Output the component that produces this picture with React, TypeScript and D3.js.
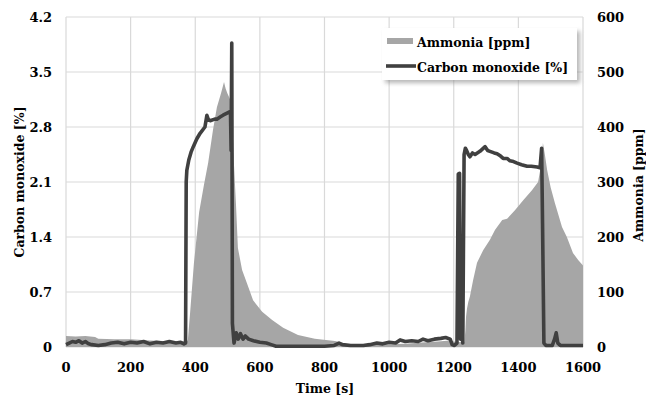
import React from 'react';
import * as d3 from 'd3';

const timeTicks = [0, 200, 400, 600, 800, 1000, 1200, 1400, 1600];
const coTicks = [0, 0.7, 1.4, 2.1, 2.8, 3.5, 4.2];
const nh3Ticks = [0, 100, 200, 300, 400, 500, 600];

const ammoniaTime = [0, 30, 60, 90, 100, 150, 200, 260, 300, 340, 370, 377, 384, 396, 412, 427, 440, 455, 467, 480, 489, 494, 499, 508, 514, 520, 526, 532, 545, 560, 579, 607, 638, 672, 718, 770, 832, 870, 900, 950, 1000, 1050, 1100, 1150, 1190, 1200, 1233, 1236, 1238, 1241, 1245, 1250, 1260, 1272, 1291, 1312, 1328, 1350, 1365, 1390, 1415, 1442, 1461, 1470, 1476, 1482, 1489, 1500, 1513, 1535, 1550, 1569, 1585, 1600];
const ammoniaPpm = [20, 19, 20, 18, 15, 14, 14, 12, 11, 10, 10, 12, 62, 153, 245, 295, 335, 395, 436, 462, 482, 470, 462, 450, 420, 330, 260, 180, 140, 116, 85, 64, 49, 35, 22, 15, 11, 6, 5, 4, 5, 6, 8, 10, 12, 10, 8, 30, 55, 70, 82, 92, 122, 153, 176, 195, 213, 231, 233, 249, 267, 285, 300, 330, 371, 350, 322, 290, 262, 218, 200, 171, 158, 148];

const coTime = [0, 10, 20, 30, 40, 50, 60, 70, 80, 100, 120, 140, 160, 180, 200, 220, 240, 260, 280, 300, 320, 340, 355, 365, 370, 372, 374, 380, 387, 394, 405, 415, 430, 436, 440, 446, 460, 467, 478, 486, 500, 509, 511, 513, 515, 520, 527, 533, 540, 548, 555, 565, 580, 600, 620, 635, 650, 700, 750, 800, 830, 845, 855, 880, 920, 940, 962, 980, 1000, 1020, 1034, 1050, 1070, 1090, 1105, 1120, 1140, 1160, 1175, 1189, 1195, 1202, 1210, 1214, 1218, 1221, 1225, 1228, 1232, 1236, 1240, 1245, 1250, 1258, 1266, 1281, 1297, 1305, 1312, 1325, 1334, 1345, 1353, 1365, 1374, 1385, 1396, 1410, 1427, 1440, 1458, 1467, 1472, 1475, 1479, 1485, 1505, 1512, 1517, 1522, 1530, 1600];
const coPct = [0.03, 0.05, 0.07, 0.06, 0.08, 0.05, 0.07, 0.04, 0.03, 0.02, 0.03, 0.05, 0.06, 0.04, 0.06, 0.05, 0.07, 0.04, 0.06, 0.05, 0.07, 0.05, 0.06, 0.04, 0.05, 2.1, 2.25, 2.38, 2.48, 2.55, 2.65, 2.72, 2.8, 2.95, 2.9, 2.88, 2.9, 2.9, 2.93, 2.95, 2.98, 3.0, 2.5, 3.87, 0.3, 0.05, 0.18, 0.1, 0.17, 0.1, 0.14, 0.1, 0.08, 0.06, 0.05, 0.03, 0.01, 0.01, 0.01, 0.01, 0.02, 0.05, 0.03, 0.02, 0.02, 0.03, 0.05, 0.04, 0.06, 0.05, 0.09, 0.07, 0.08, 0.07, 0.1, 0.08, 0.1, 0.11, 0.12, 0.1, 0.03, 0.02, 0.05, 2.2, 2.21, 0.1, 0.25, 0.05, 2.45, 2.53, 2.5, 2.45, 2.42, 2.47, 2.45, 2.49, 2.55, 2.5, 2.49, 2.47, 2.46, 2.43, 2.4, 2.4, 2.37, 2.36, 2.34, 2.32, 2.3, 2.3, 2.29, 2.28, 2.53, 1.5, 0.05, 0.02, 0.02, 0.1, 0.18, 0.05, 0.02, 0.02];

const FONT = '"DejaVu Serif", serif';

export default function App() {
  const x = d3.scaleLinear().domain([0, 1600]).range([66, 583]);
  const yL = d3.scaleLinear().domain([0, 4.2]).range([347, 17]);
  const yR = d3.scaleLinear().domain([0, 600]).range([347, 17]);

  const area = d3
    .area<number>()
    .x((_, i) => x(ammoniaTime[i]))
    .y0(yR(0))
    .y1((d) => yR(d));
  const line = d3
    .line<number>()
    .x((_, i) => x(coTime[i]))
    .y((d) => yL(d));

  return (
    <svg
      width={646}
      height={396}
      style={{ position: 'absolute', left: 0, top: 0, background: '#fff' }}
      fontFamily={FONT}
      fontWeight="bold"
    >
      <defs>
        <filter id="sh" x="-10%" y="-20%" width="130%" height="160%">
          <feGaussianBlur stdDeviation="2" />
        </filter>
      </defs>
      <rect width={646} height={396} fill="#fff" />
      {timeTicks.map((t) => (
        <line key={'gx' + t} x1={x(t)} x2={x(t)} y1={yL(4.2)} y2={yL(0)} stroke="#d9d9d9" strokeWidth={1.2} />
      ))}
      {coTicks.map((t) => (
        <line key={'gy' + t} x1={x(0)} x2={x(1600)} y1={yL(t)} y2={yL(t)} stroke="#d9d9d9" strokeWidth={1.2} />
      ))}
      <path d={area(ammoniaPpm) || ''} fill="#a6a6a6" />
      <path d={line(coPct) || ''} fill="none" stroke="#404040" strokeWidth={3.6} strokeLinejoin="round" />
      {coTicks.map((t) => (
        <text key={'lt' + t} x={52} y={yL(t)} dy="0.36em" textAnchor="end" fontSize={13} fill="#000">
          {t === 0 ? '0' : t.toFixed(1)}
        </text>
      ))}
      {nh3Ticks.map((t) => (
        <text key={'rt' + t} x={597} y={yR(t)} dy="0.36em" textAnchor="start" fontSize={13} fill="#000">
          {t}
        </text>
      ))}
      {timeTicks.map((t) => (
        <text key={'bt' + t} x={x(t)} y={372} textAnchor="middle" fontSize={13} fill="#000">
          {t}
        </text>
      ))}
      <text x={325} y={393} textAnchor="middle" fontSize={12.5} fill="#000">
        Time [s]
      </text>
      <text transform="translate(24,182) rotate(-90)" textAnchor="middle" fontSize={12.5} fill="#000">
        Carbon monoxide [%]
      </text>
      <text transform="translate(643,185) rotate(-90)" textAnchor="middle" fontSize={12.5} fill="#000">
        Ammonia [ppm]
      </text>
      <rect x={385} y={31} width={195} height={52} fill="#888" opacity={0.6} filter="url(#sh)" />
      <rect x={382} y={28} width={195} height={52} fill="#fff" />
      <rect x={387} y={38} width={26} height={6} fill="#a6a6a6" />
      <text x={417} y={47} fontSize={12.5} fill="#000">
        Ammonia [ppm]
      </text>
      <line x1={386} x2={416} y1={66} y2={66} stroke="#404040" strokeWidth={3.6} />
      <text x={417} y={72} fontSize={12.5} fill="#000">
        Carbon monoxide [%]
      </text>
    </svg>
  );
}
